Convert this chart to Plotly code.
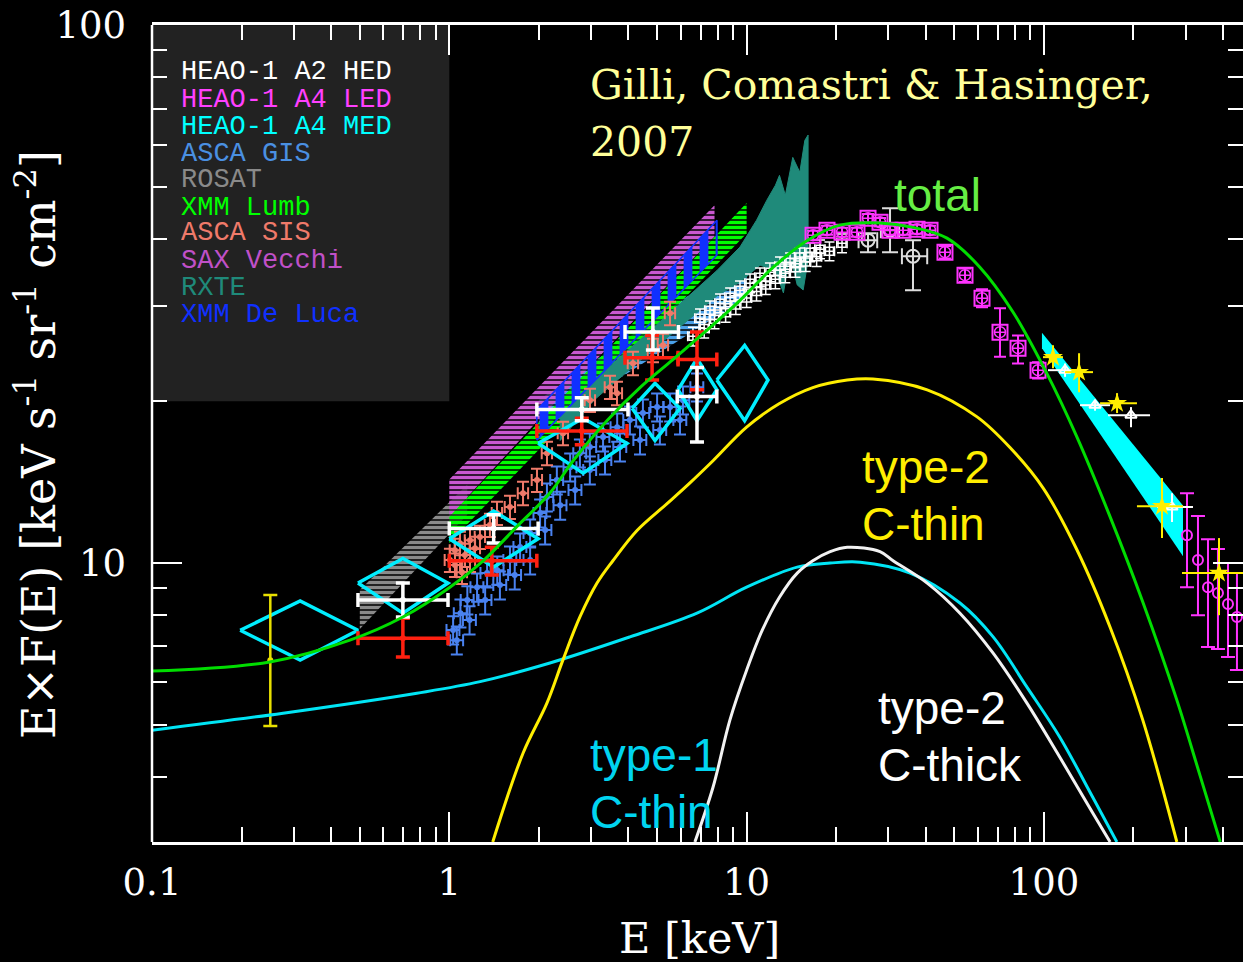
import plotly.graph_objects as go

# ---------------- model curves (E [keV], E*F(E)) ----------------
total_E = [0.1, 0.249, 0.463, 0.698, 1.005, 1.30, 1.69, 2.18, 2.61, 3.39, 4.38, 5.65, 7.36, 9.50,
           12.3, 16.0, 20.6, 28.1, 36.3, 47.2, 60.9, 78.7, 102.4, 129.2, 166.9, 215.4, 280.4, 335.0, 392.0]
total_F = [6.30, 6.55, 7.19, 7.94, 9.02, 10.1, 11.7, 13.5, 15.5, 18.4, 21.2, 23.9, 27.1, 30.8,
           35.5, 39.8, 42.5, 42.9, 42.1, 40.2, 35.5, 29.3, 22.5, 17.15, 12.2, 8.45, 5.55, 4.03, 3.03]

t2thin_E = [1.40, 1.77, 2.13, 2.41, 2.75, 3.14, 3.55, 4.28, 5.40, 6.45, 7.71, 10.0, 12.9, 16.7,
            21.8, 26.6, 40.5, 59.6, 76.9, 99.3, 129, 167, 215, 280]
t2thin_F = [3.03, 4.43, 5.49, 6.60, 7.94, 9.18, 10.1, 11.5, 12.9, 14.1, 15.5, 17.9, 19.8, 21.2,
            21.9, 22.0, 21.0, 18.7, 16.4, 13.8, 10.6, 7.60, 5.11, 3.03]

t1thin_E = [0.1, 0.276, 0.778, 1.27, 2.18, 4.05, 6.81, 10.0, 14.8, 19.1, 24.1, 35.5, 52.2, 67.5,
            87.7, 113, 146, 176]
t1thin_F = [4.89, 5.26, 5.73, 6.02, 6.52, 7.29, 8.07, 9.02, 9.83, 10.0, 10.04, 9.58, 8.43, 7.29,
            5.88, 4.75, 3.67, 3.03]

t2thick_E = [6.70, 7.71, 8.79, 10.0, 11.3, 12.9, 14.8, 16.7, 19.1, 21.8, 28.1, 31.1, 40.5, 52.2,
             67.5, 87.7, 113, 146, 167]
t2thick_F = [3.03, 3.83, 5.11, 6.32, 7.51, 8.64, 9.58, 10.1, 10.5, 10.7, 10.5, 10.1, 9.18, 8.07,
             6.80, 5.49, 4.36, 3.43, 3.03]

# ---------------- bands (power-law bow ties / spectra) ----------------
rosat_E = [0.5, 1.15]
rosat_hi = [8.91, 14.0]
rosat_lo = [7.54, 12.3]

gisband_E = [2.0, 10.0]
gisband_hi = [20.1, 37.4]
gisband_lo = [17.7, 31.2]

lumb_E = [1.0, 10.0]
lumb_hi = [12.2, 46.7]
lumb_lo = [10.9, 41.0]

sax_E = [1.0, 2.02, 7.8]
sax_hi = [14.3, 21.4, 46.3]
sax_lo = [12.2, 18.6, 40.5]

deluca_E = [1.97, 7.95]
deluca_hi = [19.25, 43.4]
deluca_lo = [16.93, 37.4]

rxte_up_E = [2.36, 3.07, 4.38, 6.45, 7.95, 9.50, 10.8, 11.7, 12.5, 12.9, 13.5, 14.3, 15.1, 15.7, 16.1]
rxte_up_F = [18.8, 21.9, 26.0, 31.5, 35.0, 38.7, 43.4, 47.3, 50.4, 52.6, 48.3, 56.8, 53.3, 61.1, 62.5]
rxte_lo_E = [2.36, 3.07, 4.38, 6.45, 7.95, 9.50, 11.1, 12.5, 13.3, 14.0, 14.8, 15.5, 16.1]
rxte_lo_F = [16.9, 20.1, 23.8, 28.5, 31.4, 33.3, 35.8, 35.0, 31.8, 37.4, 32.9, 32.2, 36.6]

a4med_E = [98.5, 293.7]
a4med_hi = [26.8, 12.8]
a4med_lo = [25.1, 10.3]

# ---------------- data points ----------------
gis_E = [1.03, 1.09, 1.15, 1.24, 1.34, 1.45, 1.60, 1.73, 1.87, 2.02, 2.13, 2.30, 2.55, 2.75, 2.97,
         3.29, 3.67, 4.05, 4.48, 5.00, 5.53, 6.11, 6.81,
         1.06, 1.17, 1.32, 1.48, 1.66, 1.87, 2.10, 2.36, 2.65, 2.97, 3.34, 3.75, 4.38, 5.11, 5.97]
gis_F = [7.51, 8.07, 8.54, 9.02, 9.58, 9.70, 10.13, 10.71, 11.37, 12.39, 13.27, 14.27, 15.08, 16.01, 16.43,
         17.15, 17.89, 18.45, 19.01, 19.50, 19.50, 20.09, 21.24,
         7.19, 7.84, 8.54, 9.10, 9.50, 10.13, 11.52, 12.81, 13.67, 14.89, 15.54, 16.43, 16.93, 17.67, 18.45]

sis_E = [1.005, 1.045, 1.086, 1.129, 1.174, 1.220, 1.268, 1.370, 1.447, 1.600, 1.770, 1.972, 2.131,
         2.412, 2.973, 3.471, 3.665, 4.148, 4.844, 5.233, 5.527, 1.045, 1.103, 1.174]
sis_F = [10.13, 10.57, 10.89, 10.35, 11.03, 10.66, 11.18, 11.77, 12.39, 12.71, 13.49, 14.27, 16.01,
         17.44, 20.09, 21.24, 20.70, 23.53, 24.88, 25.42, 29.15, 9.92, 9.62, 10.13]

# cyan diamonds: energy band and flux range
dia_Elo = [0.198, 0.493, 1.0, 1.99, 4.12, 5.88, 7.94]
dia_Ec = [0.315, 0.698, 1.41, 2.82, 4.92, 6.81, 9.85]
dia_Ehi = [0.493, 0.99, 1.99, 3.96, 5.97, 7.94, 11.8]
dia_Flo = [6.60, 8.07, 9.83, 14.7, 16.9, 18.4, 18.4]
dia_Fc = [7.50, 9.18, 11.1, 16.7, 19.4, 21.0, 21.9]
dia_Fhi = [8.50, 10.2, 12.5, 18.6, 21.6, 24.0, 25.4]

red_E = [0.698, 1.39, 2.79, 4.81, 6.81]
red_Elo = [0.493, 1.0, 1.97, 3.90, 5.88]
red_Ehi = [0.99, 1.97, 3.96, 5.88, 7.94]
red_F = [7.25, 10.1, 17.6, 24.1, 23.9]
red_Flo = [6.69, 9.50, 16.6, 21.9, 21.0]
red_Fhi = [7.90, 10.7, 18.6, 26.5, 26.9]

wx_E = [0.698, 1.41, 2.79, 4.84, 6.81]
wx_Elo = [0.493, 1.0, 1.97, 3.90, 5.85]
wx_Ehi = [0.99, 1.99, 3.99, 5.90, 7.94]
wx_F = [8.54, 11.6, 19.3, 26.9, 20.4]
wx_Flo = [7.94, 10.9, 18.4, 24.9, 16.8]
wx_Fhi = [9.18, 12.3, 20.3, 29.8, 23.1]

ylow_E = [0.25]
ylow_F = [6.6]
ylow_Flo = [4.98]
ylow_Fhi = [8.72]

hed_E = [6.97, 7.53, 8.14, 8.80, 9.50, 10.27, 11.09, 11.98, 12.95, 14.0, 15.1, 16.34, 17.66, 20.94,
         6.6, 7.2, 7.8, 8.5, 9.2, 10.0, 10.8, 11.6, 12.5, 13.5, 14.6, 15.8, 17.2, 19.0]
hed_F = [28.54, 29.53, 30.43, 31.22, 32.17, 33.15, 34.01, 34.75, 35.65, 36.27, 37.06, 37.86, 38.34, 39.34,
         26.4, 27.3, 28.4, 29.2, 30.2, 31.1, 32.0, 32.9, 33.7, 34.6, 35.4, 36.3, 37.1, 38.0]

hedb_E = [25.61, 30.37, 36.28]
hedb_Elo = [23.8, 28.3, 33.3]
hedb_Ehi = [27.5, 32.6, 40.5]
hedb_F = [39.85, 41.6, 37.21]
hedb_Flo = [37.86, 37.86, 32.17]
hedb_Fhi = [41.05, 45.7, 39.85]

led_E = [16.73, 18.64, 20.94, 23.51, 25.61, 28.10, 30.37, 33.58, 37.43, 41.40, 46.48, 54.28, 61.92,
         71.17, 81.83, 95.55]
led_F = [40.71, 41.59, 41.23, 41.23, 43.78, 43.03, 41.59, 41.59, 41.77, 41.59, 37.86, 34.30, 31.09,
         26.88, 25.10, 22.84]
led_dup = [0.8, 0.8, 0.8, 0.8, 0.8, 0.8, 0.8, 0.8, 0.8, 0.8, 1.0, 1.0, 1.2, 2.9, 1.4, 0.8]
led_ddn = [0.8, 0.8, 0.8, 0.8, 0.8, 0.8, 0.8, 0.8, 0.8, 0.8, 1.0, 1.0, 1.2, 2.7, 1.6, 0.8]

magc_E = [302.9, 329.8, 356.4, 385.0, 416.1, 446.0]
magc_F = [11.27, 10.13, 9.02, 8.80, 8.39, 7.94]
magc_Flo = [9.02, 8.00, 6.98, 6.92, 6.69, 6.33]
magc_Fhi = [13.49, 12.23, 11.08, 10.62, 10.0, 9.58]

star_E = [107.3, 131.3, 176.2, 249.6, 388.1]
star_Elo = [99.3, 117.8, 154.5, 205.6, 291.4]
star_Ehi = [115.9, 146.3, 205.6, 293.7, 533.0]
star_F = [24.15, 22.65, 19.83, 12.76, 9.58]
star_Flo = [23.04, 20.78, 19.01, 11.13, 8.00]
star_Fhi = [25.42, 24.56, 20.70, 14.39, 11.13]

tri_E = [117.8, 148.6, 196.3, 269.7]
tri_Elo = [103.2, 132.3, 164.3, 240.3]
tri_Ehi = [129.2, 166.9, 227.5, 317.3]
tri_F = [22.84, 19.66, 18.84, 12.71]
tri_Flo = [22.2, 19.2, 17.89, 11.92]
tri_Fhi = [23.5, 20.1, 19.50, 13.49]

legend_labels = ["HEAO-1 A2 HED", "HEAO-1 A4 LED", "HEAO-1 A4 MED", "ASCA GIS", "ROSAT",
                 "XMM Lumb", "ASCA SIS", "SAX Vecchi", "RXTE", "XMM De Luca"]
legend_colors = ["#ffffff", "#ff40ff", "#00ffff", "#4a90e2", "#8a8a8a",
                 "#00ff00", "#f07a6a", "#c050c8", "#1f8a7a", "#1030ff"]

x_ticks = [0.1, 1, 10, 100]
x_minor = [0.2, 0.3, 0.4, 0.5, 0.6, 0.7, 0.8, 0.9, 2, 3, 4, 5, 6, 7, 8, 9,
           20, 30, 40, 50, 60, 70, 80, 90, 200, 300, 400]
y_ticks = [10, 100]
y_minor = [4, 5, 6, 7, 8, 9, 20, 30, 40, 50, 60, 70, 80, 90]

# ---------------- colours ----------------
WHITE = "#ffffff"
MAG = "#ff33ff"
CYAN = "#00eeff"
GIS = "#4a82f0"
SIS = "#f07a6a"
RED = "#ff2010"
YEL = "#ffee00"
GREEN = "#00dd00"

fig = go.Figure()


def poly(E_up, F_up, E_lo, F_lo):
    xs = list(E_up) + list(E_lo)[::-1] + [E_up[0]]
    ys = list(F_up) + list(F_lo)[::-1] + [F_up[0]]
    return xs, ys


def hatch(E, hi, lo, color, shape="-", size=5, solidity=0.7, lw=0):
    xs, ys = poly(E, hi, E, lo)
    fig.add_trace(go.Scatter(
        x=xs, y=ys, mode="lines", fill="toself",
        line=dict(width=lw, color=color),
        fillcolor="rgba(0,0,0,0)",
        fillpattern=dict(shape=shape, fgcolor=color, bgcolor="rgba(0,0,0,0)",
                         fgopacity=1, size=size, solidity=solidity),
        hoverinfo="skip"))


# legend background box
fig.add_trace(go.Scatter(x=[0.1, 1, 1, 0.1, 0.1], y=[20, 20, 100, 100, 20], mode="lines",
                         fill="toself", fillcolor="#222222", line=dict(width=0), hoverinfo="skip"))

hatch(rosat_E, rosat_hi, rosat_lo, "#8a8a8a")
hatch(gisband_E, gisband_hi, gisband_lo, "#4aa0e8")
hatch(lumb_E, lumb_hi, lumb_lo, "#00ff00")
hatch(sax_E, sax_hi, sax_lo, "#c858d0")

xs, ys = poly(rxte_up_E, rxte_up_F, rxte_lo_E, rxte_lo_F)
fig.add_trace(go.Scatter(x=xs, y=ys, mode="lines", fill="toself", fillcolor="#1f8a7a",
                         line=dict(width=1, color="#1f8a7a"), hoverinfo="skip"))

hatch(deluca_E, deluca_hi, deluca_lo, "#1030ff", shape="|", size=16, solidity=0.55, lw=1.5)


def errpts(E, F, color, Elo=None, Ehi=None, Flo=None, Fhi=None, xpct=None, ypct=None,
           symbol="circle", size=0, thick=1.5, cap=4, mline=0):
    ex = None
    ey = None
    if Elo is not None:
        ex = dict(type="data", symmetric=False, array=[h - c for h, c in zip(Ehi, E)],
                  arrayminus=[c - l for c, l in zip(E, Elo)], color=color, thickness=thick, width=cap)
    elif xpct is not None:
        ex = dict(type="percent", value=xpct, color=color, thickness=thick, width=cap)
    if Flo is not None:
        ey = dict(type="data", symmetric=False, array=[h - c for h, c in zip(Fhi, F)],
                  arrayminus=[c - l for c, l in zip(F, Flo)], color=color, thickness=thick, width=cap)
    elif ypct is not None:
        ey = dict(type="percent", value=ypct, color=color, thickness=thick, width=cap)
    fig.add_trace(go.Scatter(
        x=E, y=F, mode="markers",
        marker=dict(symbol=symbol, size=size, color=color, line=dict(width=mline, color=color)),
        error_x=ex, error_y=ey, hoverinfo="skip"))


errpts(gis_E, gis_F, GIS, xpct=5, ypct=6, thick=2, cap=6)
errpts(sis_E, sis_F, SIS, xpct=4, ypct=5, thick=2, cap=6)

# cyan diamonds
dx, dy = [], []
for elo, ec, ehi, flo, fc, fhi in zip(dia_Elo, dia_Ec, dia_Ehi, dia_Flo, dia_Fc, dia_Fhi):
    dx += [elo, ec, ehi, ec, elo, None]
    dy += [fc, fhi, fc, flo, fc, None]
fig.add_trace(go.Scatter(x=dx, y=dy, mode="lines", line=dict(color=CYAN, width=3.5),
                         hoverinfo="skip"))

# HEAO-1 A2 HED (white)
errpts(hed_E, hed_F, WHITE, xpct=4, ypct=4, symbol="square-open", size=8, thick=1.5, cap=5, mline=1.5)
errpts(hedb_E, hedb_F, "#dddddd", Elo=hedb_Elo, Ehi=hedb_Ehi, Flo=hedb_Flo, Fhi=hedb_Fhi,
       symbol="circle-open", size=13, thick=2, cap=8, mline=2)

# HEAO-1 A4 LED (magenta squares)
fig.add_trace(go.Scatter(
    x=led_E, y=led_F, mode="markers",
    marker=dict(symbol="square-open", size=15, color=MAG, line=dict(width=2, color=MAG)),
    error_y=dict(type="data", symmetric=False, array=led_dup, arrayminus=led_ddn,
                 color=MAG, thickness=2, width=6),
    hoverinfo="skip"))
fig.add_trace(go.Scatter(
    x=led_E, y=led_F, mode="markers",
    marker=dict(symbol="circle-cross-open", size=11, color=MAG, line=dict(width=1.5, color=MAG)),
    hoverinfo="skip"))

# HEAO-1 A4 MED wedge
xs, ys = poly(a4med_E, a4med_hi, a4med_E, a4med_lo)
fig.add_trace(go.Scatter(x=xs, y=ys, mode="lines", fill="toself", fillcolor="#00ffff",
                         line=dict(width=0), hoverinfo="skip"))

errpts(magc_E, magc_F, MAG, Flo=magc_Flo, Fhi=magc_Fhi, symbol="circle-open", size=10,
       thick=2, cap=7, mline=2)
errpts(tri_E, tri_F, WHITE, Elo=tri_Elo, Ehi=tri_Ehi, Flo=tri_Flo, Fhi=tri_Fhi,
       symbol="triangle-up-open", size=10, thick=2, cap=0, mline=2)
errpts(star_E, star_F, YEL, Elo=star_Elo, Ehi=star_Ehi, Flo=star_Flo, Fhi=star_Fhi,
       symbol="star", size=15, thick=2, cap=0, mline=0)

# thick crosses
errpts(red_E, red_F, RED, Elo=red_Elo, Ehi=red_Ehi, Flo=red_Flo, Fhi=red_Fhi, thick=3.5, cap=7)
errpts(wx_E, wx_F, WHITE, Elo=wx_Elo, Ehi=wx_Ehi, Flo=wx_Flo, Fhi=wx_Fhi, thick=3.5, cap=7)
errpts(ylow_E, ylow_F, "#e8e000", Flo=ylow_Flo, Fhi=ylow_Fhi, thick=2.5, cap=7)

# model curves
for E, F, c in [(t1thin_E, t1thin_F, "#00e5f5"), (t2thick_E, t2thick_F, "#f2f2f2"),
                (t2thin_E, t2thin_F, YEL), (total_E, total_F, GREEN)]:
    fig.add_trace(go.Scatter(x=E, y=F, mode="lines", line=dict(color=c, width=3, shape="spline",
                                                              smoothing=1.0), hoverinfo="skip"))

# ---------------- annotations ----------------
W0, X0, H0, Y0 = 1091.0, 152.0, 817.0, 842.0


def px(xp):
    return (xp - X0) / W0


def py(yp):
    return (Y0 - yp) / H0


ann = []
leg_y = [72, 99, 126, 153, 180, 207, 233, 260, 287, 314]
for lab, col, yy in zip(legend_labels, legend_colors, leg_y):
    ann.append(dict(text=lab, x=px(181), y=py(yy), xanchor="left", yanchor="middle",
                    height=23, borderpad=0, borderwidth=0,
                    font=dict(family="Liberation Mono", size=27, color=col)))

serif = "DejaVu Serif"
ann.append(dict(text="Gilli, Comastri & Hasinger,", x=px(588), y=py(85), xanchor="left",
                yanchor="middle", font=dict(family=serif, size=41, color="#ffff99")))
ann.append(dict(text="2007", x=px(588), y=py(142), xanchor="left", yanchor="middle",
                font=dict(family=serif, size=41, color="#ffff99")))

sans = "Liberation Sans"
for txt, xx, yy, col in [("total", 892, 195, "#66ee44"),
                         ("type-2", 860, 467, YEL), ("C-thin", 860, 524, YEL),
                         ("type-2", 876, 708, WHITE), ("C-thick", 876, 765, WHITE),
                         ("type-1", 588, 755, "#00d4f0"), ("C-thin", 588, 812, "#00d4f0")]:
    ann.append(dict(text=txt, x=px(xx), y=py(yy), xanchor="left", yanchor="middle",
                    font=dict(family=sans, size=46, color=col)))

ann.append(dict(text="E [keV]", x=px(699), y=py(938), xanchor="center", yanchor="middle",
                font=dict(family=serif, size=43, color=WHITE)))
ann.append(dict(text="E×F(E) [keV s<sup>-1</sup> sr<sup>-1</sup> cm<sup>-2</sup>]", x=px(36),
                y=py(445), xanchor="center", yanchor="middle", textangle=-90,
                font=dict(family=serif, size=46, color=WHITE)))
for a in ann:
    a.update(xref="paper", yref="paper", showarrow=False)

fig.update_layout(
    width=1243, height=962,
    margin=dict(l=152, r=0, t=25, b=120),
    paper_bgcolor="black", plot_bgcolor="black",
    showlegend=False,
    annotations=ann,
    shapes=[dict(type="line", xref="paper", yref="paper", x0=0, x1=0, y0=0, y1=1,
                 line=dict(color=WHITE, width=2.5))],
)
fig.update_xaxes(type="log", range=[-1, 2.6697], showgrid=False, zeroline=False,
                 showline=True, linecolor=WHITE, linewidth=2.5, mirror="ticks",
                 ticks="inside", ticklen=30, tickwidth=1.5, tickcolor=WHITE,
                 tickvals=x_ticks, ticktext=["0.1", "1", "10", "100"], ticklabelstandoff=6,
                 tickfont=dict(family=serif, size=37, color=WHITE),
                 minor=dict(tickvals=x_minor, ticks="inside", ticklen=15, tickwidth=1.5,
                            tickcolor=WHITE))
fig.update_yaxes(type="log", range=[0.4814, 2.0005], showgrid=False, zeroline=False,
                 showline=False, mirror="ticks",
                 ticks="inside", ticklen=30, tickwidth=1.5, tickcolor=WHITE,
                 tickvals=y_ticks, ticktext=["10", "100"], ticklabelstandoff=25,
                 tickfont=dict(family=serif, size=37, color=WHITE),
                 minor=dict(tickvals=y_minor, ticks="inside", ticklen=15, tickwidth=1.5,
                            tickcolor=WHITE))

fig.write_html("out.html")
